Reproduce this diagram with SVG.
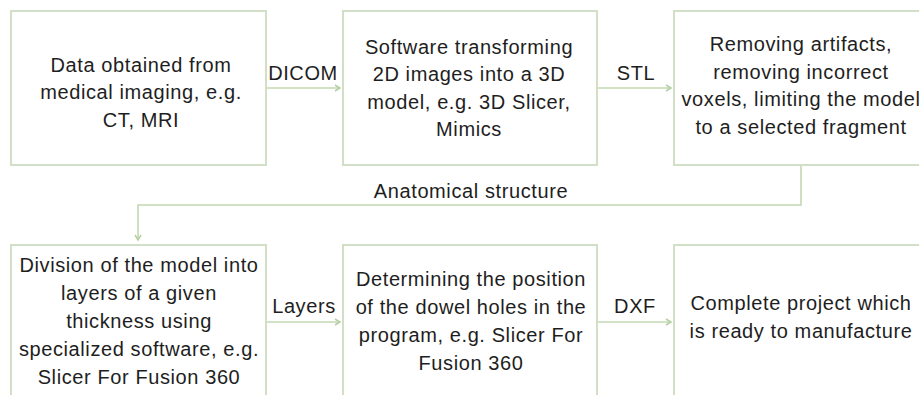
<svg xmlns="http://www.w3.org/2000/svg" width="919" height="395" viewBox="0 0 919 395">
<defs>
<style>
.box{fill:#ffffff;stroke:#d0dfc6;stroke-width:2}
.t{font-family:"Liberation Sans",Arial,sans-serif;font-size:20px;letter-spacing:0.6px;fill:#1e1e1e;text-anchor:middle}
.c{fill:none;stroke:#c2d8b3;stroke-width:1.6}
</style>
<marker id="ah" markerWidth="8" markerHeight="8" refX="6" refY="4" orient="auto" markerUnits="userSpaceOnUse">
<path d="M1,1 L6,4 L1,7" fill="none" stroke="#b5cfa3" stroke-width="1.5"/>
</marker>
</defs>
<rect width="919" height="395" fill="#ffffff"/>
<g id="connectors">
<line class="c" x1="266" y1="88" x2="340" y2="88" marker-end="url(#ah)"/>
<line class="c" x1="597" y1="88" x2="671" y2="88" marker-end="url(#ah)"/>
<polyline class="c" points="801,165 801,205 138,205 138,240" marker-end="url(#ah)"/>
<line class="c" x1="266" y1="322" x2="340" y2="322" marker-end="url(#ah)"/>
<line class="c" x1="597" y1="322" x2="671" y2="322" marker-end="url(#ah)"/>
<text class="t" x="303" y="80">DICOM</text>
<text class="t" x="636" y="80">STL</text>
<text class="t" x="471" y="198">Anatomical structure</text>
<text class="t" x="304" y="313">Layers</text>
<text class="t" x="635" y="313">DXF</text>
</g>
<g id="n1">
<rect class="box" x="11" y="11" width="255" height="154"/>
<text class="t" x="141" y="71.5">Data obtained from</text>
<text class="t" x="141" y="99">medical imaging, e.g.</text>
<text class="t" x="141" y="126.5">CT, MRI</text>
</g>
<g id="n2">
<rect class="box" x="343" y="11" width="254" height="154"/>
<text class="t" x="469" y="53.5">Software transforming</text>
<text class="t" x="469" y="81">2D images into a 3D</text>
<text class="t" x="469" y="108.5">model, e.g. 3D Slicer,</text>
<text class="t" x="469" y="136">Mimics</text>
</g>
<g id="n3">
<rect class="box" x="674" y="11" width="256" height="154"/>
<text class="t" x="801" y="51">Removing artifacts,</text>
<text class="t" x="801" y="78.5">removing incorrect</text>
<text class="t" x="801" y="106">voxels, limiting the model</text>
<text class="t" x="801" y="133.5">to a selected fragment</text>
</g>
<g id="n4">
<rect class="box" x="11" y="245" width="255" height="154"/>
<text class="t" x="139" y="272">Division of the model into</text>
<text class="t" x="139" y="300">layers of a given</text>
<text class="t" x="139" y="328">thickness using</text>
<text class="t" x="139" y="356">specialized software, e.g.</text>
<text class="t" x="139" y="384">Slicer For Fusion 360</text>
</g>
<g id="n5">
<rect class="box" x="343" y="245" width="254" height="154"/>
<text class="t" x="471" y="285.5">Determining the position</text>
<text class="t" x="471" y="313.5">of the dowel holes in the</text>
<text class="t" x="471" y="341.5">program, e.g. Slicer For</text>
<text class="t" x="471" y="369.5">Fusion 360</text>
</g>
<g id="n6">
<rect class="box" x="674" y="245" width="256" height="154"/>
<text class="t" x="801" y="310">Complete project which</text>
<text class="t" x="801" y="338">is ready to manufacture</text>
</g>
</svg>
